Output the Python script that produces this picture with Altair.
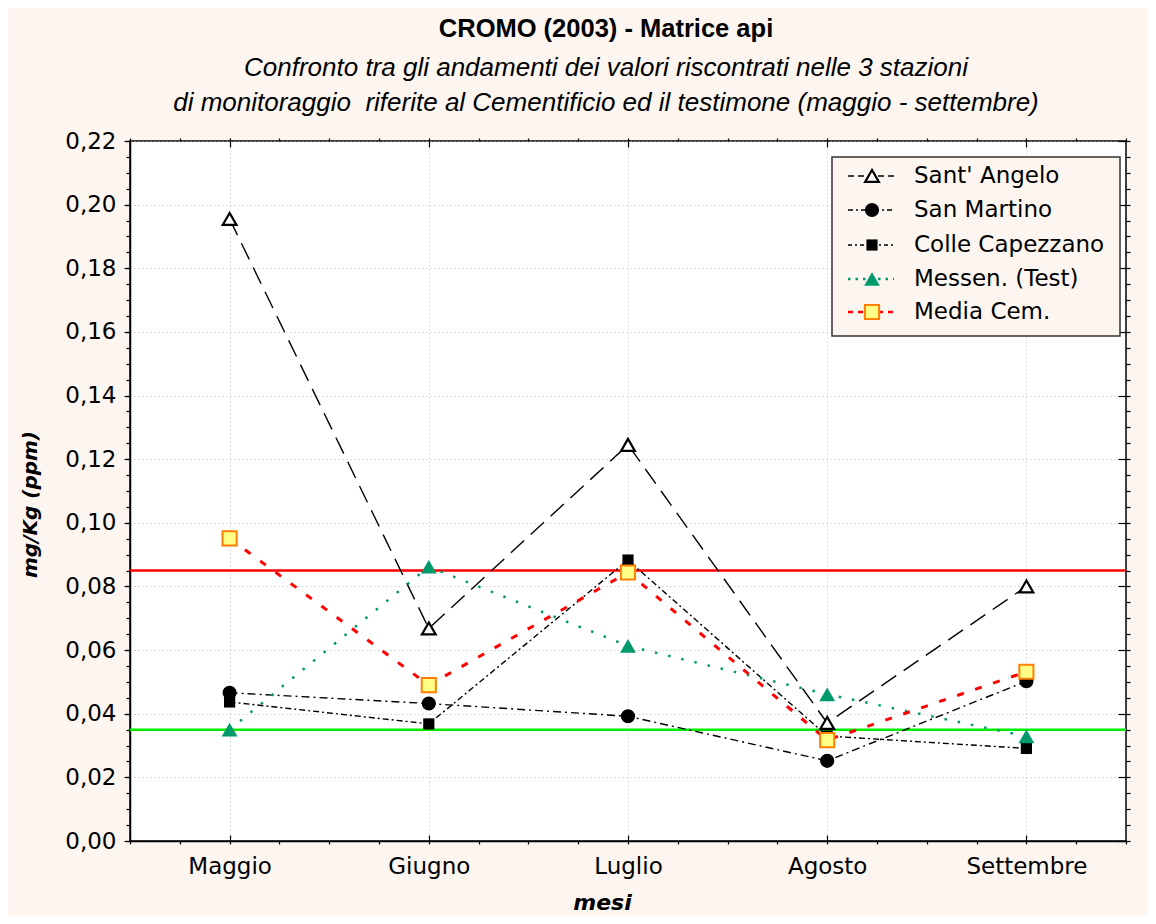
import json
import altair as alt
import pandas as pd

# ---------------- data ----------------
months = ["Maggio", "Giugno", "Luglio", "Agosto", "Settembre"]
month_index = [1, 2, 3, 4, 5]
series_names = ["Sant' Angelo", "San Martino", "Colle Capezzano", "Messen. (Test)", "Media Cem."]

sant_angelo = [0.1955, 0.0668, 0.1245, 0.0371, 0.0800]
san_martino = [0.0466, 0.0432, 0.0392, 0.0252, 0.0502]
colle_capezzano = [0.0437, 0.0368, 0.0883, 0.0330, 0.0291]
messen_test = [0.0350, 0.0862, 0.0613, 0.0461, 0.0329]
media_cem = [0.0951, 0.0490, 0.0844, 0.0317, 0.0532]

limit_labels = ["Limite superiore", "Limite inferiore"]
limit_values = [0.085, 0.035]

y_major_ticks = [0.00, 0.02, 0.04, 0.06, 0.08, 0.10, 0.12, 0.14, 0.16, 0.18, 0.20, 0.22]
y_minor_ticks = [round(0.005 * i, 3) for i in range(45)]
x_major_ticks = month_index
x_minor_ticks = [0.5 + 0.25 * i for i in range(21)]

title_text = "CROMO (2003) - Matrice api"
subtitle_lines = [
    "Confronto tra gli andamenti dei valori riscontrati nelle 3 stazioni",
    "di monitoraggio\u00a0 riferite al Cementificio ed il testimone (maggio - settembre)",
]

values_by_series = [sant_angelo, san_martino, colle_capezzano, messen_test, media_cem]
df = pd.DataFrame([
    {"serie": s, "mese": m, "pos": p, "valore": v}
    for s, vals in zip(series_names, values_by_series)
    for m, p, v in zip(months, month_index, vals)
])
limits = pd.DataFrame({"limite": limit_labels, "valore": limit_values})

# ---------------- styles ----------------
FONT = "Liberation Sans"
WIDE = "DejaVu Sans"
BG = "#fdf6f0"
styles = {
    "Sant' Angelo": dict(line="#000000", dash=[18, 9], ldash=[6, 4], lw=1.4, shape="triangle-up",
                         size=190, fill="#ffffff", stroke="#000000", sw=2.2),
    "San Martino": dict(line="#000000", dash=[8, 4, 2, 4], ldash=[5, 3, 2, 3], lw=1.4, shape="circle",
                        size=200, fill="#000000", stroke="#000000", sw=0),
    "Colle Capezzano": dict(line="#000000", dash=[6, 3, 2, 3], ldash=[4, 3, 2, 3], lw=1.4, shape="square",
                            size=125, fill="#000000", stroke="#000000", sw=0),
    "Messen. (Test)": dict(line="#00996b", dash=[2.5, 11], ldash=[2.5, 5], lw=2.5, shape="triangle-up",
                           size=250, fill="#00996b", stroke="#00996b", sw=0),
    "Media Cem.": dict(line="#ff0000", dash=[7, 12], ldash=[5, 5], lw=3, shape="square",
                       size=200, fill="#ffff88", stroke="#ff8000", sw=2),
}

xs = alt.Scale(domain=[0.5, 5.5], nice=False, zero=False)
ys = alt.Scale(domain=[0, 0.22], nice=False, zero=False)


def ax(**kw):
    base = dict(labelFont=WIDE, labelColor="black", titleFont=WIDE, titleColor="black",
                domainColor="black", tickColor="black", grid=False, labels=False,
                domain=False, title=None, ticks=True, tickWidth=1.2)
    base.update(kw)
    return alt.Axis(**base)


x_main_axis = ax(orient="bottom", values=x_major_ticks, labels=True,
                 labelExpr=json.dumps(months) + "[round(datum.value) - 1]",
                 labelFontSize=23, labelPadding=14, ticks=False, tickSize=0,
                 labelFlush=False, labelOverlap=False,
                 domain=True, domainWidth=1.5,
                 grid=True, gridColor="#bdbdbd", gridDash=[1, 3], gridWidth=1,
                 title="mesi", titleFontSize=22, titleFontWeight="bold", titleFontStyle="italic",
                 titleX=472, titleY=61, titleBaseline="middle", titleAlign="center")
y_main_axis = ax(orient="left", values=y_major_ticks, labels=True,
                 labelExpr="replace(format(datum.value, '.2f'), '.', ',')",
                 labelFontSize=23, labelPadding=8, tickSize=6,
                 labelOverlap=False, labelFlush=False,
                 domain=True, domainWidth=1.5,
                 grid=True, gridColor="#bdbdbd", gridDash=[1, 3], gridWidth=1,
                 title="mg/Kg (ppm)", titleFontSize=20, titleFontWeight="bold", titleFontStyle="italic",
                 titleX=-100, titleY=363, titleAngle=270, titleBaseline="middle", titleAlign="center")

# ---------------- layers ----------------
layers = []

# outer frame of the figure
layers.append(
    alt.Chart(pd.DataFrame({"k": [0]})).mark_rect(fillOpacity=0, stroke="#808080", strokeWidth=1.5)
    .encode(x=alt.value(-123), x2=alt.value(1040), y=alt.value(-134), y2=alt.value(800))
)

# reference limits
layers.append(
    alt.Chart(limits).mark_rule(strokeWidth=2.5).encode(
        y=alt.Y("valore:Q", scale=ys, axis=None),
        color=alt.Color("limite:N", scale=alt.Scale(domain=limit_labels, range=["#ff0000", "#00ee00"]),
                        legend=None),
    )
)

# series lines
for i, s in enumerate(series_names):
    st = styles[s]
    layers.append(
        alt.Chart(df[df.serie == s]).mark_line(color=st["line"], strokeDash=st["dash"], strokeWidth=st["lw"])
        .encode(
            x=alt.X("pos:Q", scale=xs, axis=x_main_axis if i == 0 else None),
            y=alt.Y("valore:Q", scale=ys, axis=y_main_axis if i == 0 else None),
        )
    )

# series markers
for s in series_names:
    st = styles[s]
    layers.append(
        alt.Chart(df[df.serie == s]).mark_point(shape=st["shape"], size=st["size"], fill=st["fill"],
                                                 stroke=st["stroke"], strokeWidth=st["sw"], opacity=1,
                                                 fillOpacity=1)
        .encode(
            x=alt.X("pos:Q", scale=xs, axis=None),
            y=alt.Y("valore:Q", scale=ys, axis=None),
        )
    )

# invisible carriers for minor / inward ticks on all four sides
carrier_axes = [
    (ax(orient="bottom", values=x_minor_ticks, tickSize=3),
     ax(orient="left", values=y_minor_ticks, tickSize=4)),
    (ax(orient="bottom", values=x_major_ticks, tickSize=6, offset=-6),
     ax(orient="right", values=y_minor_ticks, tickSize=4)),
    (ax(orient="top", values=x_minor_ticks, tickSize=3),
     ax(orient="right", values=y_major_ticks, tickSize=8, offset=-8)),
    (ax(orient="top", values=x_major_ticks, tickSize=6, offset=-6), None),
]
for xa, ya in carrier_axes:
    layers.append(
        alt.Chart(df).mark_point(opacity=0).encode(
            x=alt.X("pos:Q", scale=xs, axis=xa),
            y=alt.Y("valore:Q", scale=ys, axis=ya),
        )
    )

# legend box
layers.append(
    alt.Chart(pd.DataFrame({"k": [0]})).mark_rect(fill=BG, stroke="#333333", strokeWidth=1.5)
    .encode(x=alt.value(702), x2=alt.value(990), y=alt.value(16), y2=alt.value(195))
)
legend_rows = [35, 69, 104, 138, 171]
for s, ly in zip(series_names, legend_rows):
    st = styles[s]
    row = pd.DataFrame({"serie": [s]})
    layers.append(
        alt.Chart(row).mark_rule(color=st["line"], strokeDash=st["ldash"], strokeWidth=min(st["lw"], 2.5))
        .encode(x=alt.value(718), x2=alt.value(764), y=alt.value(ly))
    )
    layers.append(
        alt.Chart(row).mark_point(shape=st["shape"], size=st["size"], fill=st["fill"], stroke=st["stroke"],
                                  strokeWidth=st["sw"], opacity=1, fillOpacity=1)
        .encode(x=alt.value(742), y=alt.value(ly))
    )
    layers.append(
        alt.Chart(row).mark_text(align="left", baseline="middle", font=WIDE, fontSize=23, color="black")
        .encode(x=alt.value(784), y=alt.value(ly), text="serie:N")
    )

chart = (
    alt.layer(*layers)
    .resolve_axis(x="independent", y="independent")
    .properties(
        width=996, height=700,
        padding={"left": 122, "top": 133, "right": 22, "bottom": 75},
        autosize=alt.AutoSizeParams(type="none"),
        background=BG,
        title=alt.TitleParams(
            text=title_text, subtitle=subtitle_lines,
            font=FONT, fontSize=25.5, fontWeight="bold", color="black",
            subtitleFont=FONT, subtitleFontSize=26, subtitleFontStyle="italic",
            subtitleFontWeight="normal", subtitleColor="black",
            subtitlePadding=13, subtitleLineHeight=35,
            anchor="middle", frame="group", offset=-110, dx=-22,
        ),
    )
    .configure_view(stroke="black", strokeWidth=1.5, fill="white")
)

chart.save("out.html", embed_options={"renderer": "svg", "actions": False})
